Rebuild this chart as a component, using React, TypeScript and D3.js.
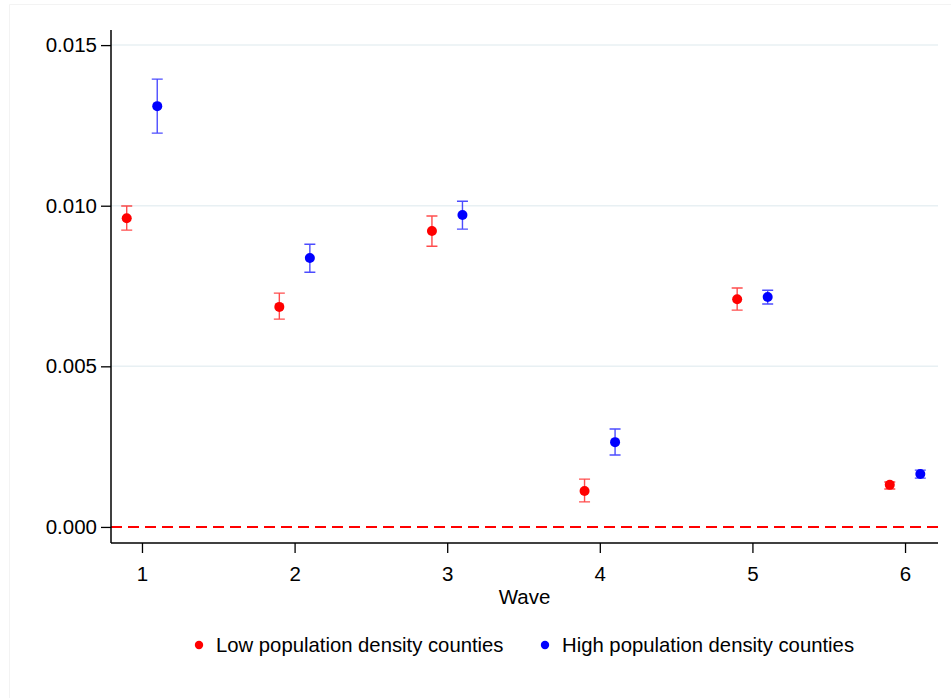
import { useEffect, useRef } from 'react'
import * as d3 from 'd3'

const W = 951
const H = 698

const waves = [1, 2, 3, 4, 5, 6]
const yTicks = [0, 0.005, 0.01, 0.015]

// low population density counties (red)
const lowEst = [0.00961, 0.00685, 0.00921, 0.00112, 0.00709, 0.00131]
const lowLo = [0.00924, 0.00647, 0.00874, 0.00078, 0.00675, 0.00118]
const lowHi = [0.00999, 0.00728, 0.00968, 0.00149, 0.00744, 0.0014]

// high population density counties (blue)
const highEst = [0.0131, 0.00837, 0.00971, 0.00264, 0.00716, 0.00165]
const highLo = [0.01226, 0.00793, 0.00927, 0.00224, 0.00694, 0.00152]
const highHi = [0.01394, 0.0088, 0.01014, 0.00305, 0.00737, 0.00177]

const series = [
  { name: 'Low population density counties', color: '#ff0000', bar: 'rgba(255,0,0,0.7)', offset: -0.1, est: lowEst, lo: lowLo, hi: lowHi },
  { name: 'High population density counties', color: '#0000ff', bar: 'rgba(0,0,255,0.7)', offset: 0.1, est: highEst, lo: highLo, hi: highHi },
]

const PLOT = { left: 111, right: 938, top: 30, bottom: 543 }
const FONT = '"Liberation Sans", Arial, sans-serif'

export default function App() {
  const svgRef = useRef<SVGSVGElement>(null)

  useEffect(() => {
    const el = svgRef.current
    if (!el) return
    d3.select(el).selectAll('*').remove()
    const svg = d3.select(el)

    const x = d3.scaleLinear().domain([0.797, 6.216]).range([PLOT.left, PLOT.right])
    const y = d3.scaleLinear().domain([-0.0005, 0.01547]).range([PLOT.bottom, PLOT.top])

    // faint outer frame (top and left edges only)
    svg.append('path')
      .attr('d', `M9.5,${H}V4.5H${W}`)
      .attr('fill', 'none').attr('stroke', '#f3f3f3')

    // grid lines
    svg.append('g')
      .selectAll('line')
      .data(yTicks.filter(d => d > 0))
      .join('line')
      .attr('x1', PLOT.left).attr('x2', PLOT.right)
      .attr('y1', d => y(d)).attr('y2', d => y(d))
      .attr('stroke', '#e8f0f3').attr('stroke-width', 1.5)

    // zero reference line
    svg.append('line')
      .attr('x1', PLOT.left).attr('x2', PLOT.right)
      .attr('y1', y(0)).attr('y2', y(0))
      .attr('stroke', '#ff0000').attr('stroke-width', 2)
      .attr('stroke-dasharray', '11,6')

    // axes
    svg.append('g')
      .attr('transform', `translate(${PLOT.left},0)`)
      .call(d3.axisLeft(y).tickValues(yTicks).tickFormat(d3.format('.3f')).tickSize(10).tickPadding(4))
      .call(g => {
        g.select('.domain').attr('stroke', '#000').attr('stroke-width', 1.5).attr('d', `M0,${PLOT.top}V${PLOT.bottom}`)
        g.selectAll('line').attr('stroke', '#000').attr('stroke-width', 1.3)
        g.selectAll('text').attr('fill', '#000').attr('font-size', '20.5px').attr('font-family', FONT)
      })

    svg.append('g')
      .attr('transform', `translate(0,${PLOT.bottom})`)
      .call(d3.axisBottom(x).tickValues(waves).tickFormat(d3.format('d')).tickSize(10).tickPadding(13))
      .call(g => {
        g.select('.domain').attr('stroke', '#000').attr('stroke-width', 1.5).attr('d', `M${PLOT.left},0H${PLOT.right}`)
        g.selectAll('line').attr('stroke', '#000').attr('stroke-width', 1.3)
        g.selectAll('text').attr('fill', '#000').attr('font-size', '20.5px').attr('font-family', FONT)
      })

    svg.append('text')
      .attr('x', (PLOT.left + PLOT.right) / 2).attr('y', 604)
      .attr('text-anchor', 'middle')
      .attr('font-size', '20.5px').attr('font-family', FONT)
      .text('Wave')

    // error bars and points
    series.forEach(s => {
      const g = svg.append('g')
      waves.forEach((w, i) => {
        const cx = x(w + s.offset)
        const path = d3.path()
        path.moveTo(cx, y(s.lo[i])); path.lineTo(cx, y(s.hi[i]))
        path.moveTo(cx - 5.5, y(s.lo[i])); path.lineTo(cx + 5.5, y(s.lo[i]))
        path.moveTo(cx - 5.5, y(s.hi[i])); path.lineTo(cx + 5.5, y(s.hi[i]))
        g.append('path').attr('d', path.toString())
          .attr('fill', 'none').attr('stroke', s.bar).attr('stroke-width', 1.4)
        g.append('circle')
          .attr('cx', cx).attr('cy', y(s.est[i])).attr('r', 5)
          .attr('fill', s.color)
      })
    })

    // legend
    const legendX = [199, 545]
    series.forEach((s, i) => {
      svg.append('circle').attr('cx', legendX[i]).attr('cy', 645).attr('r', 4.2).attr('fill', s.color)
      svg.append('text')
        .attr('x', legendX[i] + 17).attr('y', 652)
        .attr('font-size', '20.3px').attr('font-family', FONT)
        .text(s.name)
    })
  }, [])

  return (
    <svg
      ref={svgRef}
      width={W}
      height={H}
      style={{ position: 'absolute', left: 0, top: 0, display: 'block', background: '#fff' }}
    />
  )
}
